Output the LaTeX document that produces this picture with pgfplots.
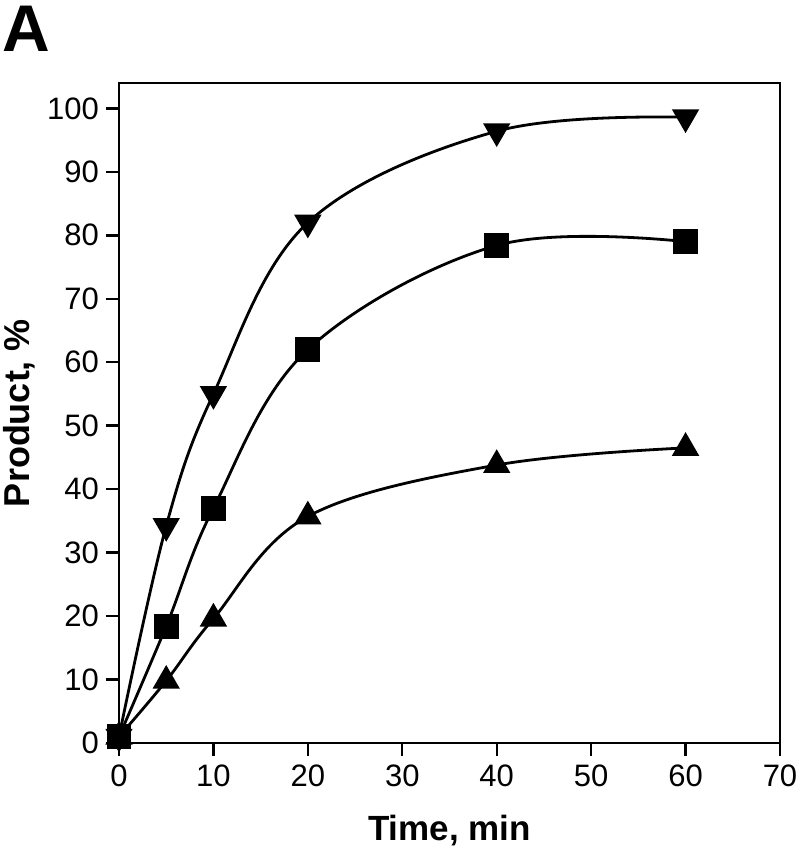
\documentclass[border=0pt]{standalone}
\usepackage{fontspec}
\setmainfont{Liberation Sans}
\usepackage{pgfplots}
\pgfplotsset{compat=1.18}

\begin{document}
\begin{tikzpicture}
\begin{axis}[
    scale only axis,
    width=330.5pt, height=330pt,
    xmin=0, xmax=70, ymin=0, ymax=104,
    xtick={0,10,...,70}, ytick={0,10,...,100},
    axis line style={line width=1.2pt},
    tick style={line width=1.2pt, black},
    tick align=outside, major tick length=6.5pt,
    xtick pos=bottom, ytick pos=left,
    /pgf/number format/assume math mode=true,
    ticklabel style={font=\fontsize{15.5}{18}\selectfont},
    xticklabel style={yshift=-1pt, inner xsep=0pt},
    xlabel={\bfseries Time, min},
    ylabel={\bfseries Product, \%},
    xlabel style={font=\fontsize{17.5}{20}\selectfont, yshift=-7pt},
    ylabel style={font=\fontsize{18}{20}\selectfont, yshift=-0.8pt},
    clip=false,
    every axis plot/.append style={line width=1.4pt, black, smooth, tension=0.6},
]
\addplot[mark=triangle*, mark size=6.5pt, mark options={rotate=180}] coordinates {
    (0,1) (5,34.2) (10,55) (20,82) (40,96.4) (60,98.6)
};
\addplot[mark=triangle*, mark size=6.5pt] coordinates {
    (0,1) (5,9.8) (10,19.6) (20,35.7) (40,43.8) (60,46.5)
};
\addplot[mark=square*, mark size=5.5pt] coordinates {
    (0,1) (5,18.4) (10,37) (20,62) (40,78.4) (60,79)
};
\node[anchor=north west, inner sep=0pt, font=\fontsize{33}{35}\selectfont\bfseries]
    at ([xshift=-58.5pt,yshift=38.5pt]rel axis cs:0,1) {A};
\end{axis}
\pgfresetboundingbox
\useasboundingbox ([xshift=-59.5pt,yshift=41.5pt]current axis.north west) rectangle ([xshift=10pt,yshift=-54.5pt]current axis.south east);
\end{tikzpicture}
\end{document}
